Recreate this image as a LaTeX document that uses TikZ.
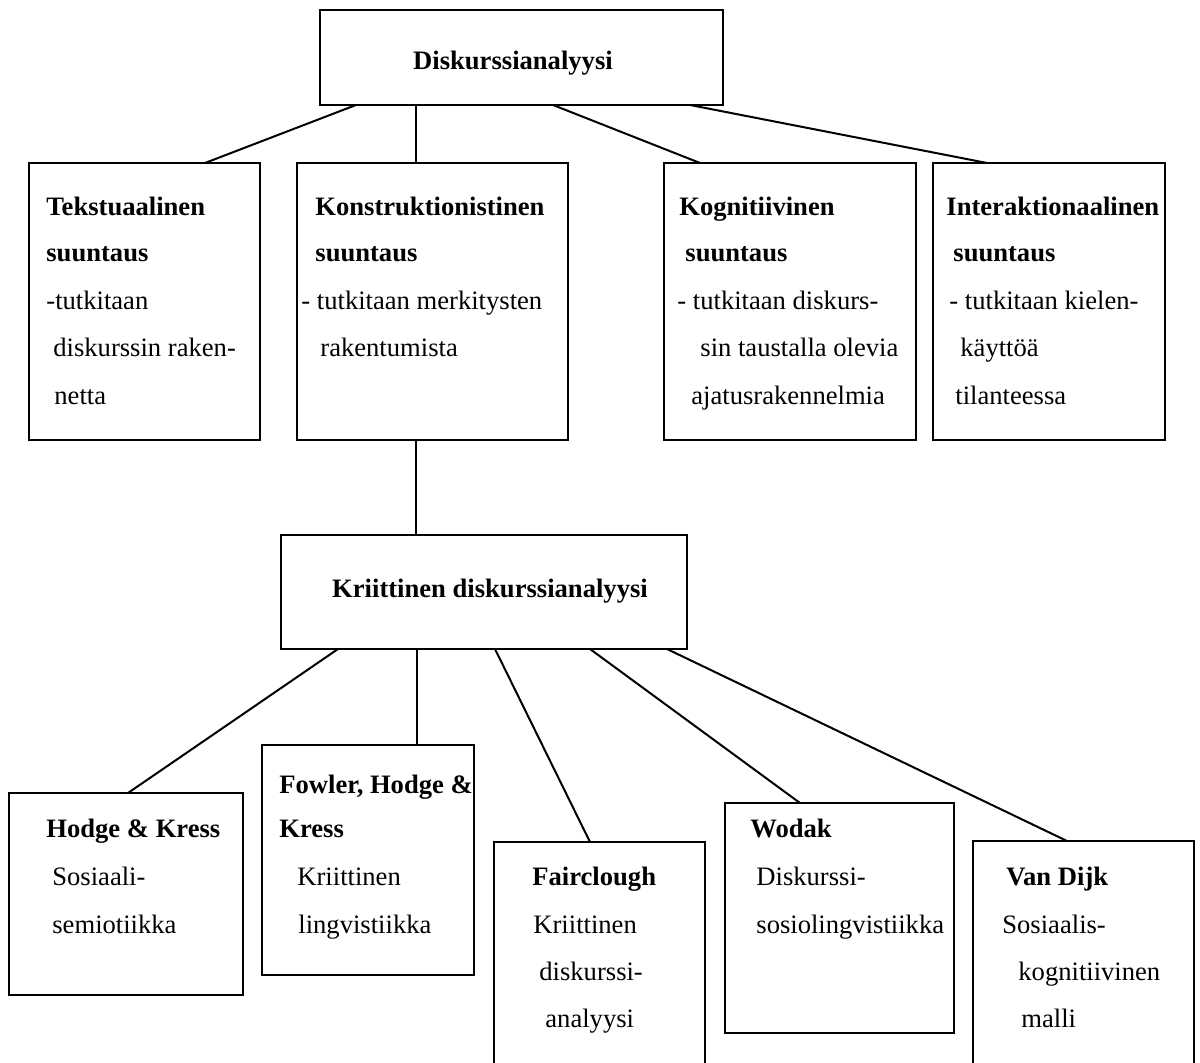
\documentclass[tikz,border=0pt]{standalone}
\usepackage{fontspec}
\setmainfont{Liberation Serif}
\usetikzlibrary{calc}
\begin{document}
\begin{tikzpicture}[x=0.5pt,y=-0.5pt,
  box/.style={draw=black, line width=1pt, inner sep=0pt, outer sep=0pt, anchor=north west},
  conn/.style={draw=black, line width=1pt},
  lbl/.style={anchor=base west, inner sep=0pt, font=\fontsize{13.3}{16}\selectfont},
  hd/.style={lbl, font=\fontsize{13.3}{16}\selectfont\bfseries},
  ctr/.style={anchor=base, inner sep=0pt, font=\fontsize{13.3}{16}\selectfont\bfseries}]
\clip (0,0) rectangle (1200,1063);
\useasboundingbox (0,0) rectangle (1200,1063);

% boxes
\node[box, minimum width=201.5pt, minimum height=47.5pt] (top) at (320,10) {};
\node[box, minimum width=115.5pt, minimum height=138.5pt] (tekst) at (29,163) {};
\node[box, minimum width=135.5pt, minimum height=138.5pt] (konstr) at (297,163) {};
\node[box, minimum width=126pt, minimum height=138.5pt] (kogn) at (664,163) {};
\node[box, minimum width=116pt, minimum height=138.5pt] (inter) at (933,163) {};
\node[box, minimum width=203pt, minimum height=57pt] (krit) at (281,535) {};
\node[box, minimum width=117pt, minimum height=101pt] (hodge) at (9,793) {};
\node[box, minimum width=106pt, minimum height=115pt] (fowler) at (262,745) {};
\node[box, minimum width=105.5pt, minimum height=125pt] (fair) at (494,842) {};
\node[box, minimum width=114.5pt, minimum height=115pt] (wodak) at (725,803) {};
\node[box, minimum width=110.5pt, minimum height=125pt] (vandijk) at (973,841) {};

% connectors
\draw[conn] ($(top.south west)+(36,0)$) -- ($(tekst.north west)+(176,0)$);
\draw[conn] ($(top.south west)+(96,0)$) -- ($(konstr.north west)+(119,0)$);
\draw[conn] ($(top.south west)+(233,0)$) -- ($(kogn.north west)+(36,0)$);
\draw[conn] ($(top.south west)+(370,0)$) -- ($(inter.north west)+(54,0)$);
\draw[conn] ($(konstr.south west)+(119,0)$) -- ($(krit.north west)+(135,0)$);
\draw[conn] ($(krit.south west)+(57,0)$) -- ($(hodge.north west)+(119,0)$);
\draw[conn] ($(krit.south west)+(136,0)$) -- ($(fowler.north west)+(155,0)$);
\draw[conn] ($(krit.south west)+(214,0)$) -- ($(fair.north west)+(96,0)$);
\draw[conn] ($(krit.south west)+(309,0)$) -- ($(wodak.north west)+(75,0)$);
\draw[conn] ($(krit.south west)+(386,0)$) -- ($(vandijk.north west)+(94,0)$);

% texts
\node[ctr] (ttop) at (513,70) {Diskurssianalyysi};

\node[hd] (a1) at (46,216) {Tekstuaalinen};
\node[hd] (a2) at (46,262) {suuntaus};
\node[lbl] (a3) at (46,310) {-tutkitaan};
\node[lbl] (a4) at (53,357) {diskurssin raken-};
\node[lbl] (a5) at (54,405) {netta};

\node[hd] (b1) at (315,216) {Konstruktionistinen};
\node[hd] (b2) at (315,262) {suuntaus};
\node[lbl] (b3) at (301,310) {- tutkitaan merkitysten};
\node[lbl] (b4) at (320,357) {rakentumista};

\node[hd] (c1) at (679,216) {Kognitiivinen};
\node[hd] (c2) at (685,262) {suuntaus};
\node[lbl] (c3) at (677,310) {- tutkitaan diskurs-};
\node[lbl] (c4) at (700,357) {sin taustalla olevia};
\node[lbl] (c5) at (691,405) {ajatusrakennelmia};

\node[hd] (d1) at (946,216) {Interaktionaalinen};
\node[hd] (d2) at (953,262) {suuntaus};
\node[lbl] (d3) at (949,310) {- tutkitaan kielen-};
\node[lbl] (d4) at (960,357) {käyttöä};
\node[lbl] (d5) at (955,405) {tilanteessa};

\node[ctr] (tkrit) at (490,598) {Kriittinen diskurssianalyysi};

\node[hd] (e1) at (46,837) {Hodge \& Kress};
\node[lbl] (e2) at (52,885) {Sosiaali-};
\node[lbl] (e3) at (52,933) {semiotiikka};

\node[hd] (f1) at (279,793) {Fowler, Hodge \&};
\node[hd] (f2) at (279,837) {Kress};
\node[lbl] (f3) at (297,885) {Kriittinen};
\node[lbl] (f4) at (298,933) {lingvistiikka};

\node[hd] (g1) at (532,885) {Fairclough};
\node[lbl] (g2) at (533,933) {Kriittinen};
\node[lbl] (g3) at (539,980) {diskurssi-};
\node[lbl] (g4) at (545,1027) {analyysi};

\node[hd] (h1) at (750,837) {Wodak};
\node[lbl] (h2) at (756,885) {Diskurssi-};
\node[lbl] (h3) at (756,933) {sosiolingvistiikka};

\node[hd] (i1) at (1006,885) {Van Dijk};
\node[lbl] (i2) at (1002,933) {Sosiaalis-};
\node[lbl] (i3) at (1018,980) {kognitiivinen};
\node[lbl] (i4) at (1021,1027) {malli};
\end{tikzpicture}
\end{document}
